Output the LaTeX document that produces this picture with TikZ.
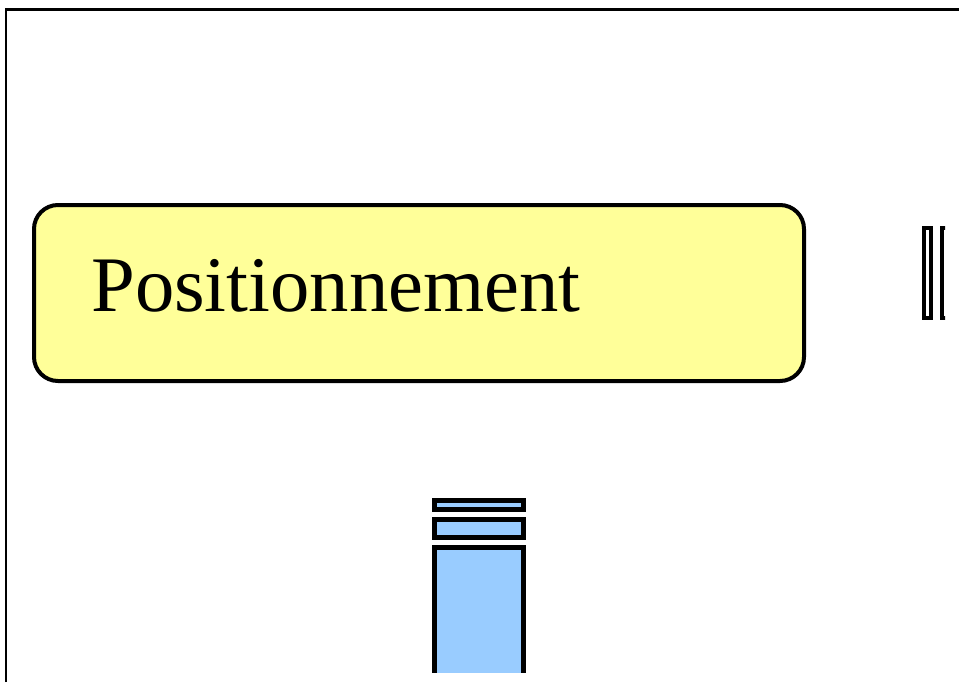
\documentclass[tikz,border=0pt]{standalone}
\usepackage{fontspec}
\setmainfont{Liberation Serif}
\usetikzlibrary{positioning}
\definecolor{boxyellow}{HTML}{FFFF99}
\definecolor{barblue}{HTML}{99CCFF}
\tikzstyle{titlebox} = [rectangle, rounded corners=18pt, minimum width=577.5pt, minimum height=132pt, inner sep=0pt, draw=black, line width=3pt, fill=boxyellow]
\tikzstyle{titletext} = [inner sep=0pt, anchor=base west, font=\fontsize{59}{70}\selectfont]
\tikzstyle{bluebar} = [rectangle, minimum width=66.75pt, inner sep=0pt, draw=black, line width=3.75pt, fill=barblue]
\tikzstyle{slimbar} = [rectangle, minimum width=5.25pt, minimum height=67.5pt, inner sep=0pt, draw=black, line width=3pt, fill=white]
\tikzstyle{frameline} = [draw=black, line width=2.2pt]

\begin{document}
\begin{tikzpicture}[x=0.75pt, y=-0.75pt]
	\useasboundingbox (0,0) rectangle (959,682);
	\draw [frameline] (6,682) -- (6,9.5) -- (959,9.5);
	
	\begin{scope}
	\clip (0,0) rectangle (945,672);
	\node (posbox) [titlebox] at (419,293) {};
	\node (postext) [titletext] at (91,311) {Positionnement};
	
	\node (slimA) [slimbar] at (927.5,273) {};
	\node (slimB) [slimbar, right=5.25pt of slimA] {};
	
	\node (barA) [bluebar, minimum height=6.75pt] at (479,505.3) {};
	\node (barB) [bluebar, minimum height=13.3pt, below=3.75pt of barA] {};
	\node (barC) [bluebar, minimum height=135pt, below=3.75pt of barB] {};
	\end{scope}
\end{tikzpicture}
\end{document}
